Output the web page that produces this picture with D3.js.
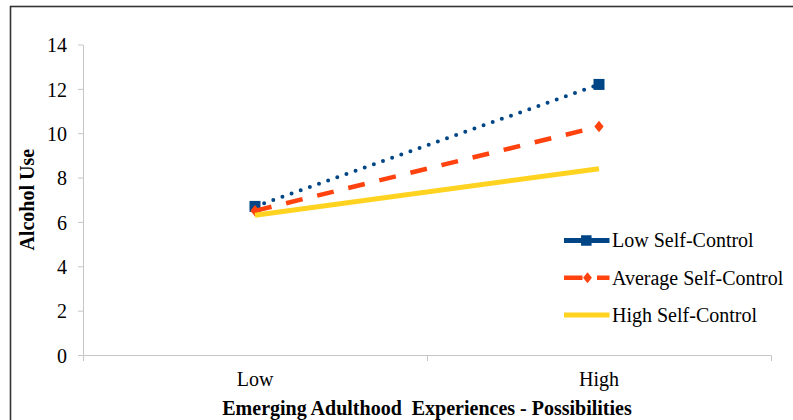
<!DOCTYPE html>
<html>
<head>
<meta charset="utf-8">
<script src="https://cdn.jsdelivr.net/npm/d3@7"></script>
<style>
  html, body { margin: 0; padding: 0; background: #fff; }
  svg { display: block; }
  text { font-family: "Liberation Serif", "Times New Roman", serif; fill: #000; }
</style>
</head>
<body>
<svg id="chart" width="793" height="420"></svg>
<script>
// Predicted alcohol use by level of emerging-adulthood possibilities, per self-control group
const categories = ["Low", "High"];
const seriesNames = ["Low Self-Control", "Average Self-Control", "High Self-Control"];
const lowSelfControl = [6.7, 12.2];
const averageSelfControl = [6.5, 10.3];
const highSelfControl = [6.3, 8.4];
const yTicks = [0, 2, 4, 6, 8, 10, 12, 14];

const seriesValues = [lowSelfControl, averageSelfControl, highSelfControl];
const seriesStyle = [
  { color: "#004586", width: 4,   dash: "0,9.7", cap: "round", marker: "square" },
  { color: "#FF420E", width: 4.5, dash: "17,15", cap: "butt",  marker: "diamond" },
  { color: "#FFD320", width: 5,   dash: null,    cap: "butt",  marker: null }
];

const svg = d3.select("#chart");
const plot = { left: 83, right: 771, top: 44.5, bottom: 355 };

// outer frame
svg.append("rect")
  .attr("x", 10.5).attr("y", 6.5)
  .attr("width", 820).attr("height", 440)
  .attr("fill", "none").attr("stroke", "#333").attr("stroke-width", 1.6);

const x = d3.scaleBand().domain(categories).range([plot.left, plot.right]);
const y = d3.scaleLinear().domain([0, 14]).range([plot.bottom, plot.top]);

const axisColor = "#c6c6c6";

// y axis
const gy = svg.append("g")
  .attr("transform", `translate(${plot.left},0)`)
  .call(d3.axisLeft(y).tickValues(yTicks).tickSizeInner(5).tickSizeOuter(0).tickPadding(11));
gy.select(".domain").attr("stroke", axisColor).attr("stroke-width", 1);
gy.selectAll(".tick line").attr("stroke", axisColor);
gy.selectAll(".tick text")
  .attr("font-size", 20).attr("dy", "0.36em")
  .style("font-family", "'Liberation Serif', 'Times New Roman', serif").attr("fill", "#000");

// x axis
const gx = svg.append("g")
  .attr("transform", `translate(0,${plot.bottom})`)
  .call(d3.axisBottom(x).tickSizeInner(0).tickSizeOuter(6).tickPadding(0));
gx.select(".domain").attr("stroke", axisColor).attr("stroke-width", 1);
gx.selectAll(".tick line").remove();
gx.selectAll(".tick text")
  .attr("font-size", 20).attr("y", 31).attr("dy", 0)
  .style("font-family", "'Liberation Serif', 'Times New Roman', serif").attr("fill", "#000");
// category boundary ticks between bands
gx.selectAll(".sep")
  .data(categories.slice(1))
  .join("line")
  .attr("class", "sep")
  .attr("x1", d => x(d) + 0.5).attr("x2", d => x(d) + 0.5)
  .attr("y1", 0).attr("y2", 6)
  .attr("stroke", axisColor);

// axis titles
svg.append("text")
  .attr("x", (plot.left + plot.right) / 2).attr("y", 415)
  .attr("text-anchor", "middle")
  .attr("font-size", 20).attr("font-weight", "bold")
  .text("Emerging Adulthood  Experiences - Possibilities")
  .style("white-space", "pre");

svg.append("text")
  .attr("transform", `translate(33.5,${(plot.top + plot.bottom) / 2}) rotate(-90)`)
  .attr("text-anchor", "middle")
  .attr("font-size", 20).attr("font-weight", "bold")
  .text("Alcohol Use");

const cx = d => x(d) + x.bandwidth() / 2;

function drawMarker(g, type, px, py, color, s) {
  if (type === "square") {
    g.append("rect")
      .attr("x", px - s / 2).attr("y", py - s / 2)
      .attr("width", s).attr("height", s)
      .attr("fill", color);
  } else if (type === "diamond") {
    const hw = s * 0.42, hh = s * 0.52;
    g.append("path")
      .attr("d", `M${px - hw},${py} L${px},${py - hh} L${px + hw},${py} L${px},${py + hh} Z`)
      .attr("fill", color);
  }
}

// series lines and markers
const line = d3.line().x((d, i) => cx(categories[i])).y(d => y(d));
seriesValues.forEach((vals, si) => {
  const st = seriesStyle[si];
  const g = svg.append("g").attr("class", "series");
  g.append("path")
    .datum(vals)
    .attr("d", line)
    .attr("fill", "none")
    .attr("stroke", st.color)
    .attr("stroke-width", st.width)
    .attr("stroke-linecap", st.cap)
    .attr("stroke-dasharray", st.dash);
  if (st.marker) {
    vals.forEach((v, i) => drawMarker(g, st.marker, cx(categories[i]), y(v), st.color, 11));
  }
});

// legend
const legendRows = [240.5, 277.7, 315];
const lg = svg.append("g").attr("class", "legend");
seriesNames.forEach((name, i) => {
  const st = seriesStyle[i];
  const ly = legendRows[i];
  lg.append("line")
    .attr("x1", 564).attr("x2", 609.5)
    .attr("y1", ly).attr("y2", ly)
    .attr("stroke", st.color)
    .attr("stroke-width", i === 0 ? 5 : st.width)
    .attr("stroke-dasharray", i === 1 ? "18.5,14.5" : null);
  if (st.marker) drawMarker(lg, st.marker, i === 0 ? 586.3 : 587.5, ly, st.color, 10.5);
  lg.append("text")
    .attr("x", 612).attr("y", ly).attr("dy", "0.34em")
    .attr("font-size", 20)
    .text(name);
});
</script>
</body>
</html>
